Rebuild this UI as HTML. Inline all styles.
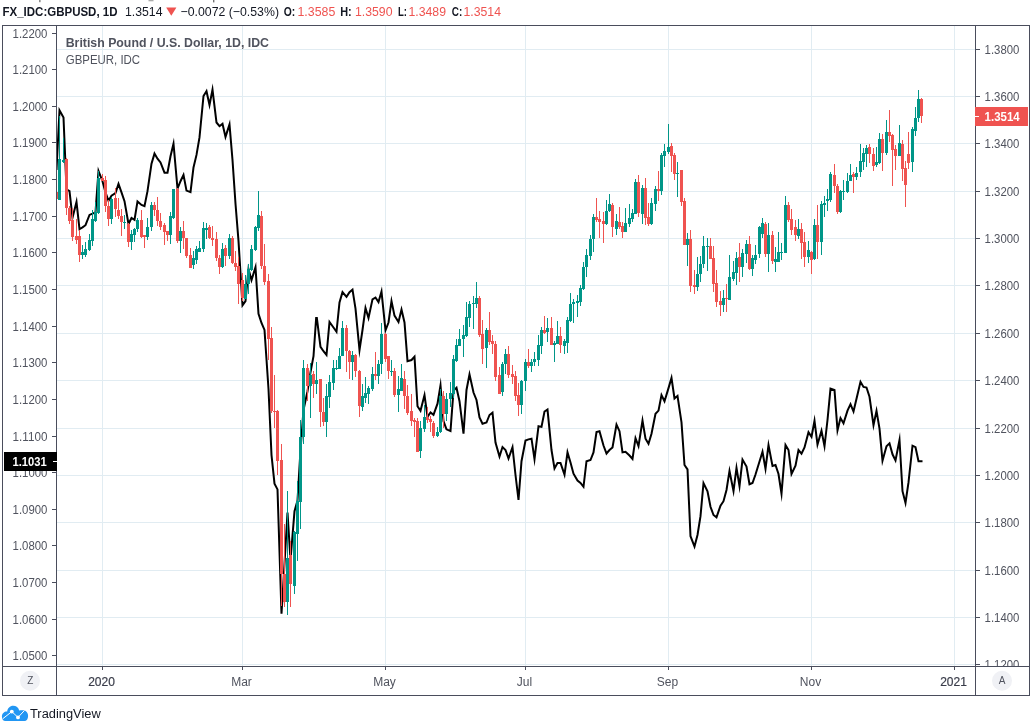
<!DOCTYPE html>
<html><head><meta charset="utf-8"><title>GBPUSD chart</title>
<style>
html,body{margin:0;padding:0;background:#fff;}
body{width:1033px;height:722px;overflow:hidden;position:relative;font-family:"Liberation Sans",sans-serif;}
svg{position:absolute;left:0;top:0;will-change:transform;}
svg text{font-family:"Liberation Sans",sans-serif;}
</style></head><body>
<svg width="1033" height="722" viewBox="0 0 1033 722">
<rect x="0" y="0" width="1033" height="722" fill="#fff"/>
<g id="header" font-size="12.6" fill="#131722">
<text x="2.5" y="16.4" font-weight="bold" textLength="115" lengthAdjust="spacingAndGlyphs">FX_IDC:GBPUSD, 1D</text>
<text x="125" y="16.4" textLength="37.5" lengthAdjust="spacingAndGlyphs">1.3514</text>
<path d="M166.2 7.4 L176.4 7.4 L171.3 15.8 Z" fill="#ef5350"/>
<text x="180.5" y="16.4" textLength="98.5" lengthAdjust="spacingAndGlyphs">−0.0072 (−0.53%)</text>
<text x="283.7" y="16.4" font-weight="bold" textLength="11.5" lengthAdjust="spacingAndGlyphs">O:</text>
<text x="297.5" y="16.4" fill="#ef5350" textLength="37.8" lengthAdjust="spacingAndGlyphs">1.3585</text>
<text x="340.2" y="16.4" font-weight="bold" textLength="11.5" lengthAdjust="spacingAndGlyphs">H:</text>
<text x="355" y="16.4" fill="#ef5350" textLength="37.5" lengthAdjust="spacingAndGlyphs">1.3590</text>
<text x="398" y="16.4" font-weight="bold" textLength="9" lengthAdjust="spacingAndGlyphs">L:</text>
<text x="408.5" y="16.4" fill="#ef5350" textLength="37.5" lengthAdjust="spacingAndGlyphs">1.3489</text>
<text x="451.8" y="16.4" font-weight="bold" textLength="10.5" lengthAdjust="spacingAndGlyphs">C:</text>
<text x="463.5" y="16.4" fill="#ef5350" textLength="37.5" lengthAdjust="spacingAndGlyphs">1.3514</text>
</g>
<g fill="#444" opacity="0.75"><rect x="39.2" y="0" width="1.3" height="2.2"/><rect x="148.5" y="0" width="5" height="1.3" opacity="0.6"/><rect x="213" y="0" width="1.4" height="2.4"/></g>
<g id="grid" stroke="#e1ecf2" stroke-width="1" shape-rendering="crispEdges">
<line x1="57" y1="49.5" x2="975" y2="49.5"/>
<line x1="57" y1="96.5" x2="975" y2="96.5"/>
<line x1="57" y1="143.5" x2="975" y2="143.5"/>
<line x1="57" y1="191.5" x2="975" y2="191.5"/>
<line x1="57" y1="238.5" x2="975" y2="238.5"/>
<line x1="57" y1="285.5" x2="975" y2="285.5"/>
<line x1="57" y1="333.5" x2="975" y2="333.5"/>
<line x1="57" y1="380.5" x2="975" y2="380.5"/>
<line x1="57" y1="428.5" x2="975" y2="428.5"/>
<line x1="57" y1="475.5" x2="975" y2="475.5"/>
<line x1="57" y1="522.5" x2="975" y2="522.5"/>
<line x1="57" y1="570.5" x2="975" y2="570.5"/>
<line x1="57" y1="617.5" x2="975" y2="617.5"/>
<line x1="57" y1="664.5" x2="975" y2="664.5"/>
<line x1="102.5" y1="26" x2="102.5" y2="666"/>
<line x1="242.5" y1="26" x2="242.5" y2="666"/>
<line x1="385.5" y1="26" x2="385.5" y2="666"/>
<line x1="525.5" y1="26" x2="525.5" y2="666"/>
<line x1="668.5" y1="26" x2="668.5" y2="666"/>
<line x1="811.5" y1="26" x2="811.5" y2="666"/>
<line x1="954.5" y1="26" x2="954.5" y2="666"/>
</g>
<clipPath id="cp"><rect x="57" y="26" width="918" height="640"/></clipPath>
<g id="series" clip-path="url(#cp)">
<path d="M56.5 170.0 L59.5 110.32 L63.5 117.5 L66.5 189.3 L69.5 191.2 L72.5 217.71 L76.5 201.91 L79.5 229.17 L82.5 227.4 L85.5 225.2 L89.5 214.9 L92.5 213.7 L95.5 212.4 L98.5 170.92 L102.5 181.2 L105.5 192.4 L108.5 200.77 L111.5 195.6 L115.5 193.1 L118.5 183.93 L121.5 192.4 L124.5 201.2 L128.5 224.02 L131.5 218.0 L134.5 219.8 L137.5 201.45 L141.5 204.9 L144.5 206.2 L147.5 191.2 L151.5 163.7 L154.5 153.6 L157.5 158.7 L160.5 162.5 L164.5 172.7 L167.5 172.7 L170.5 156.2 L173.5 143.72 L177.5 188.55 L180.5 181.2 L183.5 174.89 L186.5 190.6 L190.5 192.18 L193.5 167.4 L196.5 154.9 L199.5 137.4 L203.5 96.0 L206.5 91.18 L209.5 104.96 L212.5 89.55 L216.5 122.5 L219.5 126.2 L222.5 123.85 L225.5 136.9 L229.5 124.43 L232.5 160.0 L235.5 203.8 L238.5 240.9 L242.5 305.43 L245.5 301.2 L248.5 269.02 L251.5 280.1 L255.5 267.16 L258.5 313.7 L261.5 323.0 L264.5 329.9 L268.5 389.0 L271.5 455.0 L274.5 483.7 L277.5 489.4 L281.5 613.7 L284.5 564.0 L287.5 512.5 L290.5 560.0 L294.5 511.2 L297.5 500.6 L300.5 450.0 L303.5 410.0 L307.5 391.2 L310.5 372.4 L313.5 356.2 L316.15 318.0 L316.85 318.0 L320.5 346.8 L323.5 351.2 L326.5 355.0 L329.5 321.9 L333.5 327.5 L336.5 331.8 L339.5 302.5 L342.5 292.18 L346.5 296.86 L349.5 292.2 L352.5 289.65 L355.5 308.7 L359.5 350.07 L362.5 330.0 L365.5 307.93 L368.5 317.97 L372.5 299.4 L375.5 297.5 L378.5 302.06 L381.5 291.53 L385.5 330.31 L388.5 322.5 L391.5 301.05 L394.5 315.6 L398.5 321.97 L401.5 309.6 L404.5 322.5 L407.5 361.2 L411.5 360.0 L414.5 356.73 L417.5 406.2 L420.5 410.72 L424.5 395.07 L427.5 416.76 L430.5 412.4 L433.5 414.83 L437.5 403.7 L440.5 385.48 L443.5 421.2 L446.5 429.3 L450.5 431.12 L453.5 390.6 L456.5 387.74 L459.5 401.2 L463.5 433.7 L466.5 390.0 L469.5 374.35 L473.5 392.5 L476.5 400.0 L479.5 417.4 L482.5 423.7 L486.5 422.5 L489.5 415.0 L492.5 412.66 L495.5 442.5 L499.5 456.48 L502.5 447.07 L505.5 450.0 L508.5 458.53 L512.5 447.2 L515.5 475.0 L518.5 500.0 L521.5 461.2 L525.5 440.6 L528.5 439.4 L531.5 438.7 L534.5 459.23 L538.5 426.2 L541.5 426.9 L544.5 411.5 L547.5 409.57 L551.5 450.0 L554.5 468.49 L557.5 463.0 L560.5 463.0 L564.5 474.68 L567.5 452.35 L570.5 462.5 L573.5 473.7 L577.5 480.6 L580.5 483.0 L583.5 486.83 L586.5 461.2 L590.5 460.0 L593.5 452.4 L596.5 432.0 L599.5 431.2 L603.5 445.5 L606.5 453.5 L609.5 450.0 L612.5 447.4 L616.5 424.67 L619.5 431.2 L622.5 452.4 L625.5 451.8 L629.5 455.5 L632.5 458.88 L635.5 438.13 L638.5 446.12 L642.5 420.58 L645.5 438.7 L648.5 443.8 L651.5 433.7 L655.5 413.7 L658.5 410.6 L661.5 395.14 L664.5 401.19 L668.5 388.1 L671.5 377.89 L674.5 398.44 L677.5 395.86 L681.5 422.4 L684.5 465.0 L687.5 469.4 L690.5 536.2 L694.5 546.49 L697.5 535.0 L700.5 516.2 L703.5 483.06 L707.5 491.2 L710.5 506.8 L713.5 515.0 L716.5 517.33 L720.5 505.6 L723.5 501.2 L726.5 490.0 L729.5 470.96 L733.5 491.17 L736.5 467.91 L739.5 486.17 L742.5 459.58 L746.5 466.5 L749.5 484.29 L752.5 483.0 L755.5 474.5 L759.5 461.5 L762.5 451.76 L765.5 468.72 L768.5 445.12 L772.5 466.0 L775.5 465.0 L778.5 474.0 L781.5 493.57 L785.5 444.93 L788.5 450.0 L791.5 473.93 L795.5 465.6 L798.5 450.08 L801.5 453.58 L804.5 447.4 L808.5 432.27 L811.5 436.81 L814.5 420.7 L817.5 444.65 L821.5 430.77 L824.5 446.26 L827.5 420.0 L830.5 388.7 L834.5 390.0 L837.5 430.36 L840.5 418.09 L843.5 423.22 L847.5 410.6 L850.5 404.19 L853.5 411.56 L856.5 398.7 L860.5 381.8 L863.5 386.9 L866.5 387.5 L869.5 396.8 L873.5 425.1 L876.5 410.79 L879.5 428.7 L882.5 460.81 L886.5 446.2 L889.5 443.3 L892.5 454.3 L895.5 460.37 L899.5 440.0 L902.5 491.2 L905.5 502.97 L908.5 482.4 L912.5 445.69 L915.5 447.2 L918.5 461.2 L921.5 461.2 L922.5 461.2" fill="none" stroke="#000" stroke-width="2" stroke-linejoin="miter" stroke-miterlimit="10" stroke-linecap="butt"/>
<g id="candles" shape-rendering="crispEdges">
<rect x="56" y="192" width="1" height="7" fill="#ef5350"/>
<rect x="55" y="192" width="3" height="7" fill="#ef5350"/>
<rect x="59" y="116" width="1" height="84" fill="#009688"/>
<rect x="58" y="159" width="3" height="41" fill="#009688"/>
<rect x="63" y="138" width="1" height="25" fill="#009688"/>
<rect x="62" y="160" width="3" height="2" fill="#009688"/>
<rect x="66" y="158" width="1" height="57" fill="#ef5350"/>
<rect x="65" y="159" width="3" height="49" fill="#ef5350"/>
<rect x="69" y="206" width="1" height="18" fill="#ef5350"/>
<rect x="68" y="208" width="3" height="13" fill="#ef5350"/>
<rect x="72" y="208" width="1" height="33" fill="#ef5350"/>
<rect x="71" y="220" width="3" height="17" fill="#ef5350"/>
<rect x="76" y="219" width="1" height="25" fill="#ef5350"/>
<rect x="75" y="236" width="3" height="4" fill="#ef5350"/>
<rect x="79" y="230" width="1" height="32" fill="#ef5350"/>
<rect x="78" y="236" width="3" height="19" fill="#ef5350"/>
<rect x="82" y="245" width="1" height="14" fill="#009688"/>
<rect x="81" y="252" width="3" height="3" fill="#009688"/>
<rect x="85" y="242" width="1" height="15" fill="#009688"/>
<rect x="84" y="249" width="3" height="6" fill="#009688"/>
<rect x="89" y="234" width="1" height="17" fill="#009688"/>
<rect x="88" y="240" width="3" height="10" fill="#009688"/>
<rect x="92" y="210" width="1" height="36" fill="#009688"/>
<rect x="91" y="219" width="3" height="22" fill="#009688"/>
<rect x="95" y="202" width="1" height="20" fill="#009688"/>
<rect x="94" y="212" width="3" height="9" fill="#009688"/>
<rect x="98" y="171" width="1" height="43" fill="#009688"/>
<rect x="97" y="178" width="3" height="35" fill="#009688"/>
<rect x="102" y="174" width="1" height="7" fill="#ef5350"/>
<rect x="101" y="178" width="3" height="3" fill="#ef5350"/>
<rect x="105" y="176" width="1" height="36" fill="#ef5350"/>
<rect x="104" y="180" width="3" height="26" fill="#ef5350"/>
<rect x="108" y="200" width="1" height="26" fill="#ef5350"/>
<rect x="107" y="206" width="3" height="13" fill="#ef5350"/>
<rect x="111" y="197" width="1" height="27" fill="#009688"/>
<rect x="110" y="199" width="3" height="20" fill="#009688"/>
<rect x="115" y="188" width="1" height="29" fill="#ef5350"/>
<rect x="114" y="198" width="3" height="11" fill="#ef5350"/>
<rect x="118" y="198" width="1" height="21" fill="#ef5350"/>
<rect x="117" y="210" width="3" height="6" fill="#ef5350"/>
<rect x="121" y="209" width="1" height="27" fill="#ef5350"/>
<rect x="120" y="216" width="3" height="6" fill="#ef5350"/>
<rect x="124" y="215" width="1" height="14" fill="#009688"/>
<rect x="123" y="222" width="3" height="1" fill="#009688"/>
<rect x="128" y="223" width="1" height="24" fill="#ef5350"/>
<rect x="127" y="224" width="3" height="18" fill="#ef5350"/>
<rect x="131" y="230" width="1" height="20" fill="#009688"/>
<rect x="130" y="234" width="3" height="8" fill="#009688"/>
<rect x="134" y="228" width="1" height="14" fill="#009688"/>
<rect x="133" y="229" width="3" height="6" fill="#009688"/>
<rect x="137" y="218" width="1" height="14" fill="#009688"/>
<rect x="136" y="220" width="3" height="9" fill="#009688"/>
<rect x="141" y="210" width="1" height="28" fill="#ef5350"/>
<rect x="140" y="220" width="3" height="17" fill="#ef5350"/>
<rect x="144" y="235" width="1" height="13" fill="#ef5350"/>
<rect x="143" y="235" width="3" height="2" fill="#ef5350"/>
<rect x="147" y="218" width="1" height="22" fill="#009688"/>
<rect x="146" y="227" width="3" height="10" fill="#009688"/>
<rect x="151" y="202" width="1" height="29" fill="#009688"/>
<rect x="150" y="205" width="3" height="22" fill="#009688"/>
<rect x="154" y="202" width="1" height="14" fill="#ef5350"/>
<rect x="153" y="205" width="3" height="5" fill="#ef5350"/>
<rect x="157" y="197" width="1" height="29" fill="#ef5350"/>
<rect x="156" y="210" width="3" height="11" fill="#ef5350"/>
<rect x="160" y="213" width="1" height="17" fill="#ef5350"/>
<rect x="159" y="221" width="3" height="6" fill="#ef5350"/>
<rect x="164" y="223" width="1" height="22" fill="#ef5350"/>
<rect x="163" y="225" width="3" height="7" fill="#ef5350"/>
<rect x="167" y="231" width="1" height="10" fill="#ef5350"/>
<rect x="166" y="231" width="3" height="4" fill="#ef5350"/>
<rect x="170" y="212" width="1" height="32" fill="#009688"/>
<rect x="169" y="216" width="3" height="19" fill="#009688"/>
<rect x="173" y="189" width="1" height="30" fill="#009688"/>
<rect x="172" y="189" width="3" height="29" fill="#009688"/>
<rect x="177" y="188" width="1" height="55" fill="#ef5350"/>
<rect x="176" y="189" width="3" height="52" fill="#ef5350"/>
<rect x="180" y="227" width="1" height="26" fill="#009688"/>
<rect x="179" y="231" width="3" height="10" fill="#009688"/>
<rect x="183" y="221" width="1" height="28" fill="#ef5350"/>
<rect x="182" y="231" width="3" height="7" fill="#ef5350"/>
<rect x="186" y="238" width="1" height="20" fill="#ef5350"/>
<rect x="185" y="238" width="3" height="18" fill="#ef5350"/>
<rect x="190" y="248" width="1" height="20" fill="#ef5350"/>
<rect x="189" y="255" width="3" height="13" fill="#ef5350"/>
<rect x="193" y="251" width="1" height="18" fill="#009688"/>
<rect x="192" y="258" width="3" height="7" fill="#009688"/>
<rect x="196" y="246" width="1" height="18" fill="#009688"/>
<rect x="195" y="249" width="3" height="11" fill="#009688"/>
<rect x="199" y="241" width="1" height="11" fill="#009688"/>
<rect x="198" y="248" width="3" height="4" fill="#009688"/>
<rect x="203" y="222" width="1" height="30" fill="#009688"/>
<rect x="202" y="228" width="3" height="21" fill="#009688"/>
<rect x="206" y="223" width="1" height="16" fill="#009688"/>
<rect x="205" y="228" width="3" height="2" fill="#009688"/>
<rect x="209" y="225" width="1" height="14" fill="#ef5350"/>
<rect x="208" y="227" width="3" height="11" fill="#ef5350"/>
<rect x="212" y="226" width="1" height="20" fill="#ef5350"/>
<rect x="211" y="238" width="3" height="2" fill="#ef5350"/>
<rect x="216" y="232" width="1" height="29" fill="#ef5350"/>
<rect x="215" y="239" width="3" height="19" fill="#ef5350"/>
<rect x="219" y="255" width="1" height="19" fill="#ef5350"/>
<rect x="218" y="258" width="3" height="9" fill="#ef5350"/>
<rect x="222" y="243" width="1" height="25" fill="#009688"/>
<rect x="221" y="249" width="3" height="18" fill="#009688"/>
<rect x="225" y="245" width="1" height="21" fill="#ef5350"/>
<rect x="224" y="248" width="3" height="8" fill="#ef5350"/>
<rect x="229" y="234" width="1" height="25" fill="#009688"/>
<rect x="228" y="238" width="3" height="18" fill="#009688"/>
<rect x="232" y="236" width="1" height="28" fill="#ef5350"/>
<rect x="231" y="238" width="3" height="25" fill="#ef5350"/>
<rect x="235" y="251" width="1" height="20" fill="#ef5350"/>
<rect x="234" y="263" width="3" height="4" fill="#ef5350"/>
<rect x="238" y="257" width="1" height="47" fill="#ef5350"/>
<rect x="237" y="266" width="3" height="18" fill="#ef5350"/>
<rect x="242" y="273" width="1" height="28" fill="#ef5350"/>
<rect x="241" y="280" width="3" height="18" fill="#ef5350"/>
<rect x="245" y="275" width="1" height="24" fill="#009688"/>
<rect x="244" y="284" width="3" height="15" fill="#009688"/>
<rect x="248" y="264" width="1" height="30" fill="#009688"/>
<rect x="247" y="269" width="3" height="15" fill="#009688"/>
<rect x="251" y="245" width="1" height="26" fill="#009688"/>
<rect x="250" y="249" width="3" height="21" fill="#009688"/>
<rect x="255" y="226" width="1" height="25" fill="#009688"/>
<rect x="254" y="227" width="3" height="23" fill="#009688"/>
<rect x="258" y="191" width="1" height="40" fill="#009688"/>
<rect x="257" y="215" width="3" height="13" fill="#009688"/>
<rect x="261" y="211" width="1" height="58" fill="#ef5350"/>
<rect x="260" y="216" width="3" height="50" fill="#ef5350"/>
<rect x="264" y="244" width="1" height="41" fill="#ef5350"/>
<rect x="263" y="266" width="3" height="16" fill="#ef5350"/>
<rect x="268" y="274" width="1" height="86" fill="#ef5350"/>
<rect x="267" y="281" width="3" height="58" fill="#ef5350"/>
<rect x="271" y="327" width="1" height="86" fill="#ef5350"/>
<rect x="270" y="338" width="3" height="73" fill="#ef5350"/>
<rect x="274" y="375" width="1" height="53" fill="#ef5350"/>
<rect x="273" y="411" width="3" height="1" fill="#ef5350"/>
<rect x="277" y="410" width="1" height="65" fill="#ef5350"/>
<rect x="276" y="411" width="3" height="50" fill="#ef5350"/>
<rect x="281" y="444" width="1" height="162" fill="#ef5350"/>
<rect x="280" y="460" width="3" height="114" fill="#ef5350"/>
<rect x="284" y="524" width="1" height="83" fill="#ef5350"/>
<rect x="283" y="574" width="3" height="28" fill="#ef5350"/>
<rect x="287" y="491" width="1" height="124" fill="#009688"/>
<rect x="286" y="558" width="3" height="44" fill="#009688"/>
<rect x="290" y="541" width="1" height="66" fill="#ef5350"/>
<rect x="289" y="555" width="3" height="29" fill="#ef5350"/>
<rect x="294" y="531" width="1" height="63" fill="#009688"/>
<rect x="293" y="532" width="3" height="54" fill="#009688"/>
<rect x="297" y="481" width="1" height="80" fill="#009688"/>
<rect x="296" y="501" width="3" height="33" fill="#009688"/>
<rect x="300" y="420" width="1" height="109" fill="#009688"/>
<rect x="299" y="437" width="3" height="65" fill="#009688"/>
<rect x="303" y="360" width="1" height="84" fill="#009688"/>
<rect x="302" y="368" width="3" height="69" fill="#009688"/>
<rect x="307" y="364" width="1" height="37" fill="#ef5350"/>
<rect x="306" y="368" width="3" height="18" fill="#ef5350"/>
<rect x="310" y="363" width="1" height="55" fill="#009688"/>
<rect x="309" y="375" width="3" height="11" fill="#009688"/>
<rect x="313" y="371" width="1" height="27" fill="#ef5350"/>
<rect x="312" y="374" width="3" height="10" fill="#ef5350"/>
<rect x="316" y="362" width="1" height="32" fill="#009688"/>
<rect x="315" y="380" width="3" height="4" fill="#009688"/>
<rect x="320" y="379" width="1" height="48" fill="#ef5350"/>
<rect x="319" y="379" width="3" height="33" fill="#ef5350"/>
<rect x="323" y="398" width="1" height="28" fill="#ef5350"/>
<rect x="322" y="412" width="3" height="10" fill="#ef5350"/>
<rect x="326" y="384" width="1" height="53" fill="#009688"/>
<rect x="325" y="396" width="3" height="26" fill="#009688"/>
<rect x="329" y="375" width="1" height="33" fill="#009688"/>
<rect x="328" y="382" width="3" height="15" fill="#009688"/>
<rect x="333" y="360" width="1" height="30" fill="#009688"/>
<rect x="332" y="368" width="3" height="15" fill="#009688"/>
<rect x="336" y="360" width="1" height="10" fill="#009688"/>
<rect x="335" y="368" width="3" height="1" fill="#009688"/>
<rect x="339" y="348" width="1" height="21" fill="#009688"/>
<rect x="338" y="356" width="3" height="13" fill="#009688"/>
<rect x="342" y="321" width="1" height="35" fill="#009688"/>
<rect x="341" y="328" width="3" height="28" fill="#009688"/>
<rect x="346" y="325" width="1" height="47" fill="#ef5350"/>
<rect x="345" y="328" width="3" height="23" fill="#ef5350"/>
<rect x="349" y="350" width="1" height="29" fill="#ef5350"/>
<rect x="348" y="351" width="3" height="11" fill="#ef5350"/>
<rect x="352" y="351" width="1" height="29" fill="#009688"/>
<rect x="351" y="355" width="3" height="7" fill="#009688"/>
<rect x="355" y="354" width="1" height="23" fill="#ef5350"/>
<rect x="354" y="355" width="3" height="16" fill="#ef5350"/>
<rect x="359" y="370" width="1" height="47" fill="#ef5350"/>
<rect x="358" y="371" width="3" height="35" fill="#ef5350"/>
<rect x="362" y="384" width="1" height="27" fill="#009688"/>
<rect x="361" y="396" width="3" height="11" fill="#009688"/>
<rect x="365" y="377" width="1" height="26" fill="#009688"/>
<rect x="364" y="393" width="3" height="5" fill="#009688"/>
<rect x="368" y="386" width="1" height="18" fill="#009688"/>
<rect x="367" y="388" width="3" height="6" fill="#009688"/>
<rect x="372" y="367" width="1" height="24" fill="#009688"/>
<rect x="371" y="374" width="3" height="15" fill="#009688"/>
<rect x="375" y="352" width="1" height="28" fill="#ef5350"/>
<rect x="374" y="374" width="3" height="2" fill="#ef5350"/>
<rect x="378" y="360" width="1" height="24" fill="#009688"/>
<rect x="377" y="364" width="3" height="12" fill="#009688"/>
<rect x="381" y="323" width="1" height="51" fill="#009688"/>
<rect x="380" y="334" width="3" height="30" fill="#009688"/>
<rect x="385" y="333" width="1" height="29" fill="#ef5350"/>
<rect x="384" y="334" width="3" height="25" fill="#ef5350"/>
<rect x="388" y="356" width="1" height="23" fill="#ef5350"/>
<rect x="387" y="356" width="3" height="15" fill="#ef5350"/>
<rect x="391" y="360" width="1" height="16" fill="#009688"/>
<rect x="390" y="371" width="3" height="1" fill="#009688"/>
<rect x="394" y="368" width="1" height="29" fill="#ef5350"/>
<rect x="393" y="371" width="3" height="24" fill="#ef5350"/>
<rect x="398" y="376" width="1" height="36" fill="#009688"/>
<rect x="397" y="389" width="3" height="6" fill="#009688"/>
<rect x="401" y="364" width="1" height="27" fill="#009688"/>
<rect x="400" y="378" width="3" height="13" fill="#009688"/>
<rect x="404" y="371" width="1" height="38" fill="#ef5350"/>
<rect x="403" y="379" width="3" height="17" fill="#ef5350"/>
<rect x="407" y="385" width="1" height="30" fill="#ef5350"/>
<rect x="406" y="396" width="3" height="17" fill="#ef5350"/>
<rect x="411" y="394" width="1" height="32" fill="#ef5350"/>
<rect x="410" y="411" width="3" height="10" fill="#ef5350"/>
<rect x="414" y="418" width="1" height="19" fill="#ef5350"/>
<rect x="413" y="420" width="3" height="2" fill="#ef5350"/>
<rect x="417" y="418" width="1" height="34" fill="#ef5350"/>
<rect x="416" y="421" width="3" height="31" fill="#ef5350"/>
<rect x="420" y="421" width="1" height="37" fill="#009688"/>
<rect x="419" y="428" width="3" height="23" fill="#009688"/>
<rect x="424" y="405" width="1" height="27" fill="#009688"/>
<rect x="423" y="417" width="3" height="12" fill="#009688"/>
<rect x="427" y="407" width="1" height="16" fill="#ef5350"/>
<rect x="426" y="417" width="3" height="3" fill="#ef5350"/>
<rect x="430" y="416" width="1" height="16" fill="#ef5350"/>
<rect x="429" y="419" width="3" height="3" fill="#ef5350"/>
<rect x="433" y="421" width="1" height="17" fill="#ef5350"/>
<rect x="432" y="423" width="3" height="13" fill="#ef5350"/>
<rect x="437" y="427" width="1" height="10" fill="#009688"/>
<rect x="436" y="432" width="3" height="4" fill="#009688"/>
<rect x="440" y="389" width="1" height="44" fill="#009688"/>
<rect x="439" y="396" width="3" height="36" fill="#009688"/>
<rect x="443" y="391" width="1" height="37" fill="#ef5350"/>
<rect x="442" y="396" width="3" height="18" fill="#ef5350"/>
<rect x="446" y="393" width="1" height="28" fill="#009688"/>
<rect x="445" y="399" width="3" height="15" fill="#009688"/>
<rect x="450" y="382" width="1" height="25" fill="#009688"/>
<rect x="449" y="393" width="3" height="6" fill="#009688"/>
<rect x="453" y="355" width="1" height="43" fill="#009688"/>
<rect x="452" y="359" width="3" height="35" fill="#009688"/>
<rect x="456" y="339" width="1" height="23" fill="#009688"/>
<rect x="455" y="345" width="3" height="16" fill="#009688"/>
<rect x="459" y="329" width="1" height="17" fill="#009688"/>
<rect x="458" y="339" width="3" height="7" fill="#009688"/>
<rect x="463" y="325" width="1" height="32" fill="#009688"/>
<rect x="462" y="335" width="3" height="4" fill="#009688"/>
<rect x="466" y="302" width="1" height="35" fill="#009688"/>
<rect x="465" y="317" width="3" height="19" fill="#009688"/>
<rect x="469" y="301" width="1" height="26" fill="#009688"/>
<rect x="468" y="304" width="3" height="14" fill="#009688"/>
<rect x="473" y="296" width="1" height="33" fill="#009688"/>
<rect x="472" y="303" width="3" height="1" fill="#009688"/>
<rect x="476" y="282" width="1" height="26" fill="#009688"/>
<rect x="475" y="298" width="3" height="6" fill="#009688"/>
<rect x="479" y="296" width="1" height="41" fill="#ef5350"/>
<rect x="478" y="298" width="3" height="37" fill="#ef5350"/>
<rect x="482" y="320" width="1" height="44" fill="#ef5350"/>
<rect x="481" y="334" width="3" height="15" fill="#ef5350"/>
<rect x="486" y="328" width="1" height="40" fill="#009688"/>
<rect x="485" y="330" width="3" height="18" fill="#009688"/>
<rect x="489" y="312" width="1" height="33" fill="#ef5350"/>
<rect x="488" y="330" width="3" height="12" fill="#ef5350"/>
<rect x="492" y="335" width="1" height="19" fill="#ef5350"/>
<rect x="491" y="341" width="3" height="3" fill="#ef5350"/>
<rect x="495" y="341" width="1" height="40" fill="#ef5350"/>
<rect x="494" y="344" width="3" height="33" fill="#ef5350"/>
<rect x="499" y="367" width="1" height="27" fill="#ef5350"/>
<rect x="498" y="375" width="3" height="19" fill="#ef5350"/>
<rect x="502" y="362" width="1" height="34" fill="#009688"/>
<rect x="501" y="364" width="3" height="28" fill="#009688"/>
<rect x="505" y="349" width="1" height="25" fill="#009688"/>
<rect x="504" y="354" width="3" height="10" fill="#009688"/>
<rect x="508" y="346" width="1" height="32" fill="#ef5350"/>
<rect x="507" y="354" width="3" height="21" fill="#ef5350"/>
<rect x="512" y="365" width="1" height="19" fill="#ef5350"/>
<rect x="511" y="374" width="3" height="3" fill="#ef5350"/>
<rect x="515" y="371" width="1" height="30" fill="#ef5350"/>
<rect x="514" y="376" width="3" height="20" fill="#ef5350"/>
<rect x="518" y="383" width="1" height="33" fill="#ef5350"/>
<rect x="517" y="395" width="3" height="10" fill="#ef5350"/>
<rect x="521" y="380" width="1" height="34" fill="#009688"/>
<rect x="520" y="381" width="3" height="24" fill="#009688"/>
<rect x="525" y="359" width="1" height="32" fill="#009688"/>
<rect x="524" y="362" width="3" height="19" fill="#009688"/>
<rect x="528" y="349" width="1" height="19" fill="#ef5350"/>
<rect x="527" y="362" width="3" height="4" fill="#ef5350"/>
<rect x="531" y="359" width="1" height="13" fill="#009688"/>
<rect x="530" y="362" width="3" height="4" fill="#009688"/>
<rect x="534" y="352" width="1" height="14" fill="#009688"/>
<rect x="533" y="359" width="3" height="3" fill="#009688"/>
<rect x="538" y="335" width="1" height="31" fill="#009688"/>
<rect x="537" y="345" width="3" height="15" fill="#009688"/>
<rect x="541" y="327" width="1" height="27" fill="#009688"/>
<rect x="540" y="330" width="3" height="16" fill="#009688"/>
<rect x="544" y="316" width="1" height="18" fill="#ef5350"/>
<rect x="543" y="330" width="3" height="3" fill="#ef5350"/>
<rect x="547" y="318" width="1" height="24" fill="#009688"/>
<rect x="546" y="328" width="3" height="4" fill="#009688"/>
<rect x="551" y="317" width="1" height="28" fill="#ef5350"/>
<rect x="550" y="328" width="3" height="17" fill="#ef5350"/>
<rect x="554" y="341" width="1" height="21" fill="#009688"/>
<rect x="553" y="343" width="3" height="2" fill="#009688"/>
<rect x="557" y="321" width="1" height="23" fill="#009688"/>
<rect x="556" y="336" width="3" height="8" fill="#009688"/>
<rect x="560" y="327" width="1" height="26" fill="#ef5350"/>
<rect x="559" y="336" width="3" height="9" fill="#ef5350"/>
<rect x="564" y="339" width="1" height="15" fill="#009688"/>
<rect x="563" y="341" width="3" height="5" fill="#009688"/>
<rect x="567" y="317" width="1" height="36" fill="#009688"/>
<rect x="566" y="320" width="3" height="23" fill="#009688"/>
<rect x="570" y="293" width="1" height="29" fill="#009688"/>
<rect x="569" y="304" width="3" height="17" fill="#009688"/>
<rect x="573" y="299" width="1" height="24" fill="#009688"/>
<rect x="572" y="302" width="3" height="2" fill="#009688"/>
<rect x="577" y="295" width="1" height="22" fill="#009688"/>
<rect x="576" y="301" width="3" height="2" fill="#009688"/>
<rect x="580" y="285" width="1" height="21" fill="#009688"/>
<rect x="579" y="288" width="3" height="14" fill="#009688"/>
<rect x="583" y="262" width="1" height="28" fill="#009688"/>
<rect x="582" y="267" width="3" height="22" fill="#009688"/>
<rect x="586" y="249" width="1" height="28" fill="#009688"/>
<rect x="585" y="255" width="3" height="12" fill="#009688"/>
<rect x="590" y="235" width="1" height="25" fill="#009688"/>
<rect x="589" y="239" width="3" height="17" fill="#009688"/>
<rect x="593" y="214" width="1" height="38" fill="#009688"/>
<rect x="592" y="217" width="3" height="22" fill="#009688"/>
<rect x="596" y="198" width="1" height="24" fill="#ef5350"/>
<rect x="595" y="217" width="3" height="3" fill="#ef5350"/>
<rect x="599" y="211" width="1" height="27" fill="#ef5350"/>
<rect x="598" y="219" width="3" height="3" fill="#ef5350"/>
<rect x="603" y="212" width="1" height="31" fill="#ef5350"/>
<rect x="602" y="221" width="3" height="3" fill="#ef5350"/>
<rect x="606" y="200" width="1" height="25" fill="#009688"/>
<rect x="605" y="211" width="3" height="13" fill="#009688"/>
<rect x="609" y="194" width="1" height="18" fill="#009688"/>
<rect x="608" y="204" width="3" height="7" fill="#009688"/>
<rect x="612" y="203" width="1" height="34" fill="#ef5350"/>
<rect x="611" y="205" width="3" height="22" fill="#ef5350"/>
<rect x="616" y="214" width="1" height="21" fill="#009688"/>
<rect x="615" y="221" width="3" height="8" fill="#009688"/>
<rect x="619" y="207" width="1" height="22" fill="#ef5350"/>
<rect x="618" y="222" width="3" height="5" fill="#ef5350"/>
<rect x="622" y="222" width="1" height="16" fill="#ef5350"/>
<rect x="621" y="226" width="3" height="6" fill="#ef5350"/>
<rect x="625" y="208" width="1" height="24" fill="#009688"/>
<rect x="624" y="223" width="3" height="9" fill="#009688"/>
<rect x="629" y="204" width="1" height="23" fill="#009688"/>
<rect x="628" y="218" width="3" height="6" fill="#009688"/>
<rect x="632" y="209" width="1" height="13" fill="#009688"/>
<rect x="631" y="213" width="3" height="6" fill="#009688"/>
<rect x="635" y="179" width="1" height="35" fill="#009688"/>
<rect x="634" y="182" width="3" height="32" fill="#009688"/>
<rect x="638" y="175" width="1" height="42" fill="#ef5350"/>
<rect x="637" y="182" width="3" height="31" fill="#ef5350"/>
<rect x="642" y="185" width="1" height="39" fill="#009688"/>
<rect x="641" y="188" width="3" height="26" fill="#009688"/>
<rect x="645" y="178" width="1" height="47" fill="#ef5350"/>
<rect x="644" y="188" width="3" height="30" fill="#ef5350"/>
<rect x="648" y="203" width="1" height="23" fill="#ef5350"/>
<rect x="647" y="217" width="3" height="7" fill="#ef5350"/>
<rect x="651" y="198" width="1" height="27" fill="#009688"/>
<rect x="650" y="203" width="3" height="21" fill="#009688"/>
<rect x="655" y="186" width="1" height="25" fill="#009688"/>
<rect x="654" y="189" width="3" height="15" fill="#009688"/>
<rect x="658" y="171" width="1" height="30" fill="#ef5350"/>
<rect x="657" y="189" width="3" height="2" fill="#ef5350"/>
<rect x="661" y="153" width="1" height="42" fill="#009688"/>
<rect x="660" y="155" width="3" height="36" fill="#009688"/>
<rect x="664" y="144" width="1" height="23" fill="#009688"/>
<rect x="663" y="151" width="3" height="5" fill="#009688"/>
<rect x="668" y="124" width="1" height="30" fill="#009688"/>
<rect x="667" y="147" width="3" height="5" fill="#009688"/>
<rect x="671" y="143" width="1" height="29" fill="#ef5350"/>
<rect x="670" y="146" width="3" height="10" fill="#ef5350"/>
<rect x="674" y="153" width="1" height="27" fill="#ef5350"/>
<rect x="673" y="155" width="3" height="19" fill="#ef5350"/>
<rect x="677" y="162" width="1" height="35" fill="#009688"/>
<rect x="676" y="173" width="3" height="1" fill="#009688"/>
<rect x="681" y="170" width="1" height="36" fill="#ef5350"/>
<rect x="680" y="170" width="3" height="32" fill="#ef5350"/>
<rect x="684" y="198" width="1" height="47" fill="#ef5350"/>
<rect x="683" y="201" width="3" height="44" fill="#ef5350"/>
<rect x="687" y="233" width="1" height="33" fill="#009688"/>
<rect x="686" y="239" width="3" height="6" fill="#009688"/>
<rect x="690" y="230" width="1" height="62" fill="#ef5350"/>
<rect x="689" y="239" width="3" height="47" fill="#ef5350"/>
<rect x="694" y="270" width="1" height="24" fill="#ef5350"/>
<rect x="693" y="285" width="3" height="2" fill="#ef5350"/>
<rect x="697" y="257" width="1" height="34" fill="#009688"/>
<rect x="696" y="274" width="3" height="13" fill="#009688"/>
<rect x="700" y="256" width="1" height="26" fill="#009688"/>
<rect x="699" y="264" width="3" height="10" fill="#009688"/>
<rect x="703" y="236" width="1" height="32" fill="#009688"/>
<rect x="702" y="246" width="3" height="18" fill="#009688"/>
<rect x="707" y="238" width="1" height="33" fill="#009688"/>
<rect x="706" y="246" width="3" height="1" fill="#009688"/>
<rect x="710" y="238" width="1" height="21" fill="#ef5350"/>
<rect x="709" y="246" width="3" height="13" fill="#ef5350"/>
<rect x="713" y="246" width="1" height="46" fill="#ef5350"/>
<rect x="712" y="258" width="3" height="26" fill="#ef5350"/>
<rect x="716" y="270" width="1" height="37" fill="#ef5350"/>
<rect x="715" y="283" width="3" height="19" fill="#ef5350"/>
<rect x="720" y="291" width="1" height="25" fill="#ef5350"/>
<rect x="719" y="301" width="3" height="4" fill="#ef5350"/>
<rect x="723" y="290" width="1" height="22" fill="#009688"/>
<rect x="722" y="298" width="3" height="7" fill="#009688"/>
<rect x="726" y="284" width="1" height="28" fill="#ef5350"/>
<rect x="725" y="298" width="3" height="1" fill="#ef5350"/>
<rect x="729" y="255" width="1" height="45" fill="#009688"/>
<rect x="728" y="277" width="3" height="23" fill="#009688"/>
<rect x="733" y="261" width="1" height="20" fill="#009688"/>
<rect x="732" y="272" width="3" height="7" fill="#009688"/>
<rect x="736" y="252" width="1" height="33" fill="#009688"/>
<rect x="735" y="258" width="3" height="15" fill="#009688"/>
<rect x="739" y="243" width="1" height="39" fill="#ef5350"/>
<rect x="738" y="257" width="3" height="10" fill="#ef5350"/>
<rect x="742" y="249" width="1" height="28" fill="#009688"/>
<rect x="741" y="253" width="3" height="14" fill="#009688"/>
<rect x="746" y="240" width="1" height="23" fill="#009688"/>
<rect x="745" y="244" width="3" height="10" fill="#009688"/>
<rect x="749" y="236" width="1" height="34" fill="#ef5350"/>
<rect x="748" y="244" width="3" height="25" fill="#ef5350"/>
<rect x="752" y="255" width="1" height="21" fill="#009688"/>
<rect x="751" y="258" width="3" height="11" fill="#009688"/>
<rect x="755" y="245" width="1" height="19" fill="#009688"/>
<rect x="754" y="255" width="3" height="5" fill="#009688"/>
<rect x="759" y="226" width="1" height="32" fill="#009688"/>
<rect x="758" y="227" width="3" height="27" fill="#009688"/>
<rect x="762" y="218" width="1" height="20" fill="#009688"/>
<rect x="761" y="223" width="3" height="11" fill="#009688"/>
<rect x="765" y="222" width="1" height="35" fill="#ef5350"/>
<rect x="764" y="224" width="3" height="30" fill="#ef5350"/>
<rect x="768" y="223" width="1" height="49" fill="#009688"/>
<rect x="767" y="235" width="3" height="19" fill="#009688"/>
<rect x="772" y="231" width="1" height="33" fill="#ef5350"/>
<rect x="771" y="235" width="3" height="26" fill="#ef5350"/>
<rect x="775" y="247" width="1" height="25" fill="#009688"/>
<rect x="774" y="259" width="3" height="3" fill="#009688"/>
<rect x="778" y="232" width="1" height="30" fill="#009688"/>
<rect x="777" y="252" width="3" height="10" fill="#009688"/>
<rect x="781" y="243" width="1" height="17" fill="#009688"/>
<rect x="780" y="252" width="3" height="1" fill="#009688"/>
<rect x="785" y="196" width="1" height="57" fill="#009688"/>
<rect x="784" y="205" width="3" height="48" fill="#009688"/>
<rect x="788" y="202" width="1" height="20" fill="#ef5350"/>
<rect x="787" y="205" width="3" height="15" fill="#ef5350"/>
<rect x="791" y="209" width="1" height="26" fill="#ef5350"/>
<rect x="790" y="219" width="3" height="11" fill="#ef5350"/>
<rect x="795" y="220" width="1" height="21" fill="#ef5350"/>
<rect x="794" y="227" width="3" height="8" fill="#ef5350"/>
<rect x="798" y="219" width="1" height="20" fill="#009688"/>
<rect x="797" y="229" width="3" height="7" fill="#009688"/>
<rect x="801" y="223" width="1" height="36" fill="#ef5350"/>
<rect x="800" y="229" width="3" height="14" fill="#ef5350"/>
<rect x="804" y="232" width="1" height="35" fill="#ef5350"/>
<rect x="803" y="242" width="3" height="15" fill="#ef5350"/>
<rect x="808" y="241" width="1" height="22" fill="#009688"/>
<rect x="807" y="250" width="3" height="7" fill="#009688"/>
<rect x="811" y="251" width="1" height="23" fill="#ef5350"/>
<rect x="810" y="252" width="3" height="8" fill="#ef5350"/>
<rect x="814" y="219" width="1" height="41" fill="#009688"/>
<rect x="813" y="225" width="3" height="34" fill="#009688"/>
<rect x="817" y="205" width="1" height="54" fill="#ef5350"/>
<rect x="816" y="225" width="3" height="17" fill="#ef5350"/>
<rect x="821" y="201" width="1" height="54" fill="#009688"/>
<rect x="820" y="204" width="3" height="38" fill="#009688"/>
<rect x="824" y="196" width="1" height="21" fill="#009688"/>
<rect x="823" y="203" width="3" height="2" fill="#009688"/>
<rect x="827" y="189" width="1" height="22" fill="#009688"/>
<rect x="826" y="199" width="3" height="2" fill="#009688"/>
<rect x="830" y="172" width="1" height="30" fill="#009688"/>
<rect x="829" y="174" width="3" height="26" fill="#009688"/>
<rect x="834" y="164" width="1" height="29" fill="#ef5350"/>
<rect x="833" y="175" width="3" height="11" fill="#ef5350"/>
<rect x="837" y="184" width="1" height="30" fill="#ef5350"/>
<rect x="836" y="186" width="3" height="26" fill="#ef5350"/>
<rect x="840" y="190" width="1" height="23" fill="#009688"/>
<rect x="839" y="191" width="3" height="21" fill="#009688"/>
<rect x="843" y="180" width="1" height="20" fill="#009688"/>
<rect x="842" y="191" width="3" height="1" fill="#009688"/>
<rect x="847" y="173" width="1" height="20" fill="#009688"/>
<rect x="846" y="181" width="3" height="11" fill="#009688"/>
<rect x="850" y="164" width="1" height="17" fill="#009688"/>
<rect x="849" y="175" width="3" height="6" fill="#009688"/>
<rect x="853" y="172" width="1" height="21" fill="#ef5350"/>
<rect x="852" y="174" width="3" height="3" fill="#ef5350"/>
<rect x="856" y="167" width="1" height="13" fill="#009688"/>
<rect x="855" y="173" width="3" height="4" fill="#009688"/>
<rect x="860" y="144" width="1" height="33" fill="#009688"/>
<rect x="859" y="161" width="3" height="11" fill="#009688"/>
<rect x="863" y="148" width="1" height="22" fill="#009688"/>
<rect x="862" y="153" width="3" height="9" fill="#009688"/>
<rect x="866" y="145" width="1" height="22" fill="#009688"/>
<rect x="865" y="148" width="3" height="6" fill="#009688"/>
<rect x="869" y="144" width="1" height="19" fill="#ef5350"/>
<rect x="868" y="147" width="3" height="7" fill="#ef5350"/>
<rect x="873" y="148" width="1" height="23" fill="#ef5350"/>
<rect x="872" y="154" width="3" height="12" fill="#ef5350"/>
<rect x="876" y="147" width="1" height="20" fill="#009688"/>
<rect x="875" y="162" width="3" height="3" fill="#009688"/>
<rect x="879" y="133" width="1" height="31" fill="#009688"/>
<rect x="878" y="139" width="3" height="24" fill="#009688"/>
<rect x="882" y="134" width="1" height="37" fill="#ef5350"/>
<rect x="881" y="139" width="3" height="14" fill="#ef5350"/>
<rect x="886" y="120" width="1" height="35" fill="#009688"/>
<rect x="885" y="132" width="3" height="21" fill="#009688"/>
<rect x="889" y="110" width="1" height="32" fill="#ef5350"/>
<rect x="888" y="132" width="3" height="4" fill="#ef5350"/>
<rect x="892" y="134" width="1" height="52" fill="#ef5350"/>
<rect x="891" y="135" width="3" height="15" fill="#ef5350"/>
<rect x="895" y="145" width="1" height="25" fill="#ef5350"/>
<rect x="894" y="149" width="3" height="7" fill="#ef5350"/>
<rect x="899" y="125" width="1" height="31" fill="#009688"/>
<rect x="898" y="143" width="3" height="13" fill="#009688"/>
<rect x="902" y="140" width="1" height="41" fill="#ef5350"/>
<rect x="901" y="144" width="3" height="25" fill="#ef5350"/>
<rect x="905" y="161" width="1" height="46" fill="#ef5350"/>
<rect x="904" y="168" width="3" height="17" fill="#ef5350"/>
<rect x="908" y="132" width="1" height="37" fill="#ef5350"/>
<rect x="907" y="154" width="3" height="9" fill="#ef5350"/>
<rect x="912" y="127" width="1" height="45" fill="#009688"/>
<rect x="911" y="129" width="3" height="33" fill="#009688"/>
<rect x="915" y="107" width="1" height="29" fill="#009688"/>
<rect x="914" y="118" width="3" height="13" fill="#009688"/>
<rect x="918" y="90" width="1" height="32" fill="#009688"/>
<rect x="917" y="99" width="3" height="19" fill="#009688"/>
<rect x="921" y="98" width="1" height="25" fill="#ef5350"/>
<rect x="920" y="99" width="3" height="17" fill="#ef5350"/>
</g>
</g>
<text x="65.7" y="46.8" font-size="12.6" font-weight="bold" fill="#50535e" textLength="203.3" lengthAdjust="spacingAndGlyphs">British Pound / U.S. Dollar, 1D, IDC</text>
<text x="65.8" y="63.6" font-size="12.1" fill="#50535e" textLength="74.3" lengthAdjust="spacingAndGlyphs">GBPEUR, IDC</text>
<g id="frame" stroke="#4a4d5c" stroke-width="1" fill="none" shape-rendering="crispEdges">
<rect x="2.5" y="25.5" width="1027" height="670"/>
<line x1="56.5" y1="25" x2="56.5" y2="695"/>
<line x1="975.5" y1="25" x2="975.5" y2="695"/>
<line x1="2" y1="666.5" x2="1029" y2="666.5"/>
<line x1="52" y1="33.5" x2="56" y2="33.5"/>
<line x1="52" y1="69.5" x2="56" y2="69.5"/>
<line x1="52" y1="106.5" x2="56" y2="106.5"/>
<line x1="52" y1="142.5" x2="56" y2="142.5"/>
<line x1="52" y1="179.5" x2="56" y2="179.5"/>
<line x1="52" y1="216.5" x2="56" y2="216.5"/>
<line x1="52" y1="252.5" x2="56" y2="252.5"/>
<line x1="52" y1="289.5" x2="56" y2="289.5"/>
<line x1="52" y1="326.5" x2="56" y2="326.5"/>
<line x1="52" y1="362.5" x2="56" y2="362.5"/>
<line x1="52" y1="399.5" x2="56" y2="399.5"/>
<line x1="52" y1="436.5" x2="56" y2="436.5"/>
<line x1="52" y1="472.5" x2="56" y2="472.5"/>
<line x1="52" y1="509.5" x2="56" y2="509.5"/>
<line x1="52" y1="545.5" x2="56" y2="545.5"/>
<line x1="52" y1="582.5" x2="56" y2="582.5"/>
<line x1="52" y1="619.5" x2="56" y2="619.5"/>
<line x1="52" y1="655.5" x2="56" y2="655.5"/>
<line x1="976" y1="49.5" x2="980" y2="49.5"/>
<line x1="976" y1="96.5" x2="980" y2="96.5"/>
<line x1="976" y1="143.5" x2="980" y2="143.5"/>
<line x1="976" y1="191.5" x2="980" y2="191.5"/>
<line x1="976" y1="238.5" x2="980" y2="238.5"/>
<line x1="976" y1="285.5" x2="980" y2="285.5"/>
<line x1="976" y1="333.5" x2="980" y2="333.5"/>
<line x1="976" y1="380.5" x2="980" y2="380.5"/>
<line x1="976" y1="428.5" x2="980" y2="428.5"/>
<line x1="976" y1="475.5" x2="980" y2="475.5"/>
<line x1="976" y1="522.5" x2="980" y2="522.5"/>
<line x1="976" y1="570.5" x2="980" y2="570.5"/>
<line x1="976" y1="617.5" x2="980" y2="617.5"/>
<line x1="976" y1="664.5" x2="980" y2="664.5"/>
<line x1="102.5" y1="667" x2="102.5" y2="670"/>
<line x1="242.5" y1="667" x2="242.5" y2="670"/>
<line x1="385.5" y1="667" x2="385.5" y2="670"/>
<line x1="525.5" y1="667" x2="525.5" y2="670"/>
<line x1="668.5" y1="667" x2="668.5" y2="670"/>
<line x1="811.5" y1="667" x2="811.5" y2="670"/>
<line x1="954.5" y1="667" x2="954.5" y2="670"/>
</g>
<clipPath id="cpr"><rect x="976" y="26" width="53" height="640"/></clipPath>
<g id="leftlabels" font-size="12.3" fill="#50535e" text-anchor="end">
<text x="47.4" y="37.9" textLength="34.8" lengthAdjust="spacingAndGlyphs">1.2200</text>
<text x="47.4" y="73.9" textLength="34.8" lengthAdjust="spacingAndGlyphs">1.2100</text>
<text x="47.4" y="110.9" textLength="34.8" lengthAdjust="spacingAndGlyphs">1.2000</text>
<text x="47.4" y="146.9" textLength="34.8" lengthAdjust="spacingAndGlyphs">1.1900</text>
<text x="47.4" y="183.9" textLength="34.8" lengthAdjust="spacingAndGlyphs">1.1800</text>
<text x="47.4" y="220.9" textLength="34.8" lengthAdjust="spacingAndGlyphs">1.1700</text>
<text x="47.4" y="256.9" textLength="34.8" lengthAdjust="spacingAndGlyphs">1.1600</text>
<text x="47.4" y="293.9" textLength="34.8" lengthAdjust="spacingAndGlyphs">1.1500</text>
<text x="47.4" y="330.9" textLength="34.8" lengthAdjust="spacingAndGlyphs">1.1400</text>
<text x="47.4" y="366.9" textLength="34.8" lengthAdjust="spacingAndGlyphs">1.1300</text>
<text x="47.4" y="403.9" textLength="34.8" lengthAdjust="spacingAndGlyphs">1.1200</text>
<text x="47.4" y="440.9" textLength="34.8" lengthAdjust="spacingAndGlyphs">1.1100</text>
<text x="47.4" y="476.9" textLength="34.8" lengthAdjust="spacingAndGlyphs">1.1000</text>
<text x="47.4" y="513.9" textLength="34.8" lengthAdjust="spacingAndGlyphs">1.0900</text>
<text x="47.4" y="549.9" textLength="34.8" lengthAdjust="spacingAndGlyphs">1.0800</text>
<text x="47.4" y="586.9" textLength="34.8" lengthAdjust="spacingAndGlyphs">1.0700</text>
<text x="47.4" y="623.9" textLength="34.8" lengthAdjust="spacingAndGlyphs">1.0600</text>
<text x="47.4" y="659.9" textLength="34.8" lengthAdjust="spacingAndGlyphs">1.0500</text>
</g>
<g id="rightlabels" font-size="12.3" fill="#50535e" clip-path="url(#cpr)">
<text x="984.6" y="53.9" textLength="34.8" lengthAdjust="spacingAndGlyphs">1.3800</text>
<text x="984.6" y="100.9" textLength="34.8" lengthAdjust="spacingAndGlyphs">1.3600</text>
<text x="984.6" y="147.9" textLength="34.8" lengthAdjust="spacingAndGlyphs">1.3400</text>
<text x="984.6" y="195.9" textLength="34.8" lengthAdjust="spacingAndGlyphs">1.3200</text>
<text x="984.6" y="242.9" textLength="34.8" lengthAdjust="spacingAndGlyphs">1.3000</text>
<text x="984.6" y="289.9" textLength="34.8" lengthAdjust="spacingAndGlyphs">1.2800</text>
<text x="984.6" y="337.9" textLength="34.8" lengthAdjust="spacingAndGlyphs">1.2600</text>
<text x="984.6" y="384.9" textLength="34.8" lengthAdjust="spacingAndGlyphs">1.2400</text>
<text x="984.6" y="432.9" textLength="34.8" lengthAdjust="spacingAndGlyphs">1.2200</text>
<text x="984.6" y="479.9" textLength="34.8" lengthAdjust="spacingAndGlyphs">1.2000</text>
<text x="984.6" y="526.9" textLength="34.8" lengthAdjust="spacingAndGlyphs">1.1800</text>
<text x="984.6" y="574.9" textLength="34.8" lengthAdjust="spacingAndGlyphs">1.1600</text>
<text x="984.6" y="621.9" textLength="34.8" lengthAdjust="spacingAndGlyphs">1.1400</text>
<text x="984.6" y="668.9" textLength="34.8" lengthAdjust="spacingAndGlyphs">1.1200</text>
</g>
<g id="timelabels" font-size="12" fill="#50535e" text-anchor="middle">
<text x="101.5" y="686.2" fill="#3a3d4a" stroke="#3a3d4a" stroke-width="0.2">2020</text>
<text x="241.5" y="686.2">Mar</text>
<text x="384.5" y="686.2">May</text>
<text x="524.5" y="686.2">Jul</text>
<text x="667.5" y="686.2">Sep</text>
<text x="810.5" y="686.2">Nov</text>
<text x="953.5" y="686.2" fill="#3a3d4a" stroke="#3a3d4a" stroke-width="0.2">2021</text>
</g>
<rect x="975" y="107" width="53" height="19" fill="#ef5350"/>
<rect x="975" y="116" width="4" height="1" fill="#fff"/>
<text x="984.6" y="121" font-size="12.3" font-weight="bold" fill="#fff" textLength="35.1" lengthAdjust="spacingAndGlyphs">1.3514</text>
<rect x="4" y="452" width="53" height="19" fill="#000"/>
<rect x="53" y="461" width="4" height="1" fill="#fff"/>
<text x="12.4" y="466" font-size="12.3" font-weight="bold" fill="#fff" textLength="34.3" lengthAdjust="spacingAndGlyphs">1.1031</text>
<circle cx="30" cy="680.8" r="10" fill="#f0f1f5"/>
<text x="30.3" y="684.2" font-size="10" fill="#50535e" text-anchor="middle">Z</text>
<circle cx="1002" cy="680.8" r="10" fill="#f0f1f5"/>
<text x="1002" y="684.2" font-size="10" fill="#50535e" text-anchor="middle">A</text>
<g id="logo">
<path d="M5.5 721.1 C3 721.1 1.9 719 1.9 716.5 C1.9 713.5 4.5 711.4 7.2 711.6 C7.4 708.3 10 705.8 13.2 705.8 C16.2 705.8 18.6 707.8 19.2 710.6 C20.5 710.2 22 710.2 23.4 710.3 C26.2 710.6 28.1 713 28.1 716 C28.1 719 26.5 721.1 24.5 721.1 Z" fill="#2196f3"/>
<path d="M2.7 718.8 L11.8 711.6 L18 717.4 L24.4 710.5" fill="none" stroke="#fff" stroke-width="1"/>
<circle cx="11.8" cy="711.6" r="1.9" fill="#fff"/><circle cx="18" cy="717.4" r="1.9" fill="#fff"/>
<text x="30" y="717.8" font-size="12" fill="#131722" textLength="70.7" lengthAdjust="spacingAndGlyphs">TradingView</text>
</g>
</svg>
</body></html>
